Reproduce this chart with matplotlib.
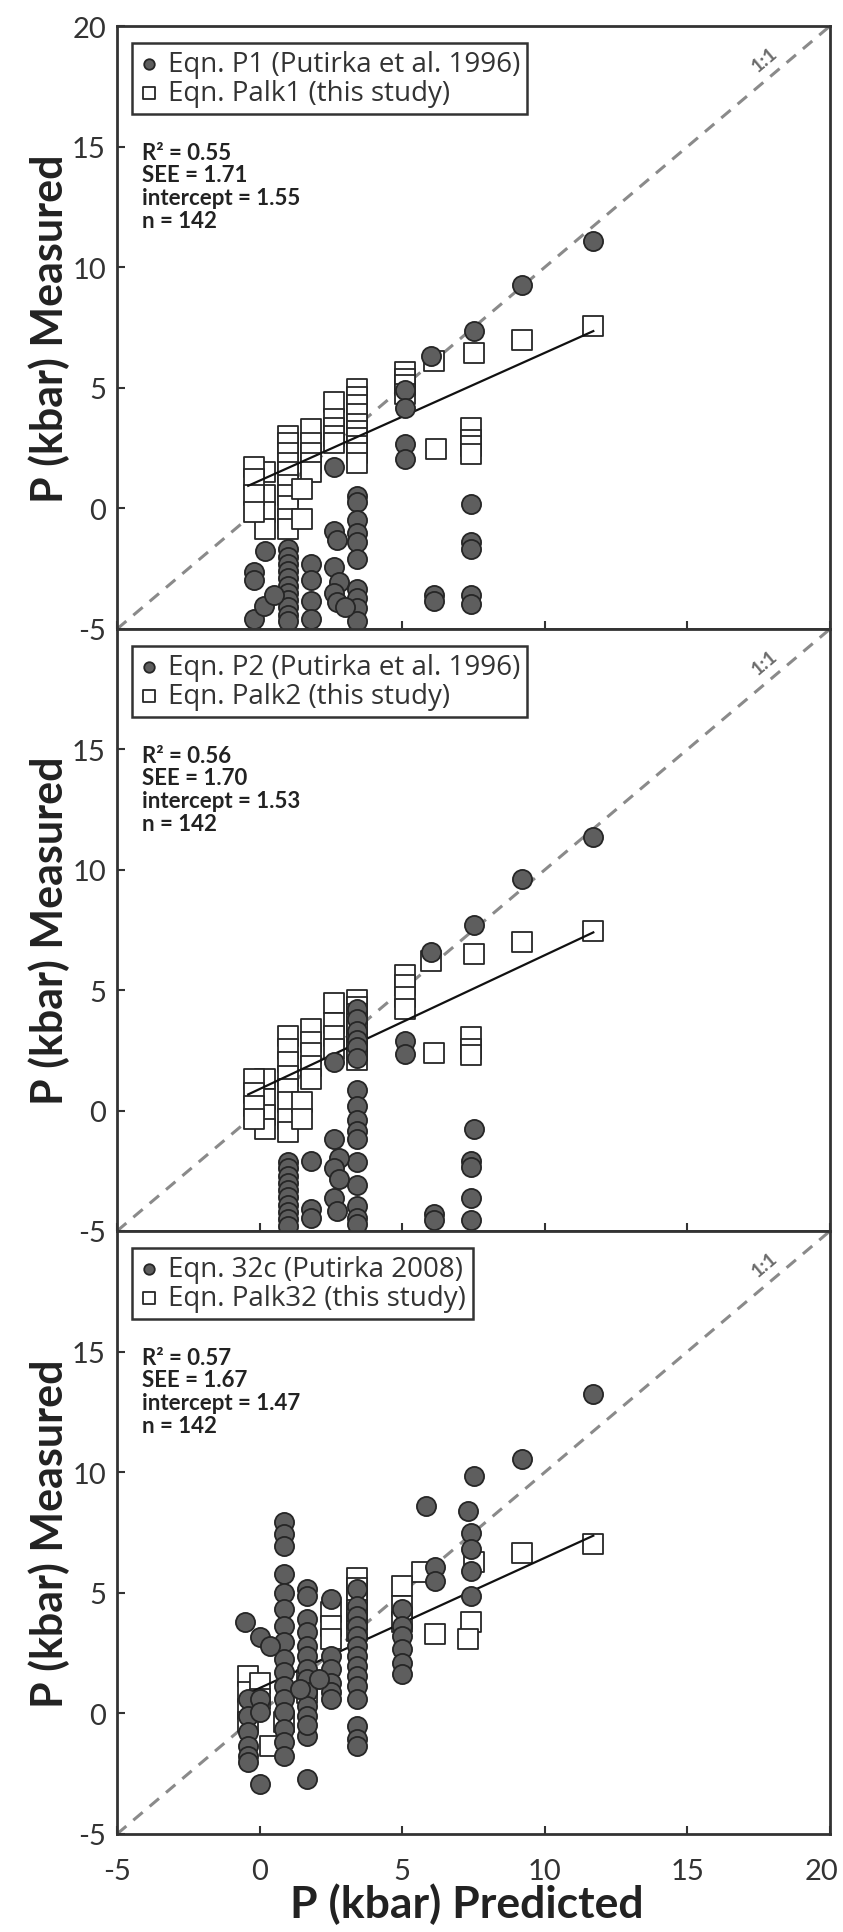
import math

import matplotlib
matplotlib.use("Agg")
import matplotlib.pyplot as plt
from matplotlib.transforms import ScaledTranslation

plt.rcParams["font.family"] = ["Lato", "DejaVu Sans"]
plt.rcParams["axes.unicode_minus"] = False

# ---- panel 1: Eqn. P1 vs Palk1 ----
p1_circ_x = [11.7, 9.2, 7.5, 6.0, 5.1, 5.1, 5.1, 5.1,
             7.4, 7.4, 7.4, 7.4, 7.4, 6.1, 6.1,
             3.4, 3.4, 3.4, 3.4, 3.4, 3.4, 3.4, 3.4, 3.4, 3.4,
             2.6, 2.6, 2.7, 2.6, 2.8, 2.6, 2.7, 3.0,
             1.8, 1.8, 1.8, 1.8,
             1.0, 1.0, 1.0, 1.0, 1.0, 1.0, 1.0, 1.0, 1.0, 1.0, 1.0,
             0.2, -0.2, 0.15, 0.5, -0.2, -0.2]
p1_circ_y = [11.1, 9.25, 7.35, 6.3, 4.9, 4.15, 2.65, 2.05,
             0.2, -1.4, -1.7, -3.6, -3.95, -3.6, -3.85,
             0.5, 0.25, -0.5, -1.0, -1.4, -2.1, -3.35, -3.7, -4.15, -4.65,
             1.7, -0.95, -1.3, -2.45, -3.05, -3.5, -3.9, -4.1,
             -2.3, -2.95, -3.85, -4.6,
             -1.7, -2.0, -2.3, -2.6, -2.9, -3.2, -3.5, -3.8, -4.1, -4.4, -4.65,
             -1.75, -4.6, -4.05, -3.6, -2.65, -2.95]
p1_sq_x = [11.7, 9.2, 7.5, 6.1, 5.1, 5.1, 5.1, 5.1,
           7.4, 7.4, 7.4, 7.4, 6.2,
           3.4, 3.4, 3.4, 3.4, 3.4, 3.4, 3.4, 3.4, 3.4, 3.4,
           2.6, 2.6, 2.6, 2.6, 2.6,
           1.8, 1.8, 1.8, 1.8, 1.8,
           1.0, 1.0, 1.0, 1.0, 1.0, 1.0, 1.0, 1.0, 1.0, 1.0,
           1.5, 1.5, 0.2, 0.2, 0.2, 0.2, -0.2, -0.2, -0.2, -0.2]
p1_sq_y = [7.55, 7.0, 6.45, 6.1, 5.65, 5.35, 5.1, 4.75,
           3.35, 2.85, 2.6, 2.25, 2.45,
           4.95, 4.6, 4.3, 3.9, 3.5, 3.2, 2.9, 2.6, 2.3, 1.9,
           4.4, 3.7, 3.35, 3.0, 2.7,
           3.3, 2.7, 2.3, 1.9, 1.5,
           3.0, 2.7, 2.3, 1.9, 1.5, 0.95, 0.55, 0.1, -0.45, -0.85,
           0.8, -0.45, 1.5, 0.55, -0.15, -0.85, 1.7, 1.2, 0.55, -0.15]
p1_fit = (0.53, 1.15)
p1_labels = ["Eqn. P1 (Putirka et al. 1996)", "Eqn. Palk1 (this study)"]
p1_stats = ["0.55", "1.71", "1.55", "142"]

# ---- panel 2: Eqn. P2 vs Palk2 ----
p2_circ_x = [11.7, 9.2, 7.5, 6.0, 5.1, 5.1,
             7.5, 7.4, 7.4, 7.4, 7.4, 6.1, 6.1,
             3.4, 3.4, 3.4, 3.4, 3.4, 3.4, 3.4, 3.4, 3.4, 3.4, 3.4, 3.4, 3.4, 3.4, 3.4, 3.4,
             2.6, 2.6, 2.8, 2.6, 2.8, 2.6, 2.7,
             1.8, 1.8, 1.8,
             1.0, 1.0, 1.0, 1.0, 1.0, 1.0, 1.0, 1.0, 1.0, 1.0]
p2_circ_y = [11.35, 9.6, 7.7, 6.6, 2.9, 2.35,
             -0.75, -2.1, -2.35, -3.65, -4.55, -4.3, -4.55,
             4.2, 3.8, 3.3, 2.95, 2.65, 2.2, 0.85, 0.2, -0.4, -0.85, -1.2, -2.15, -3.1, -3.95, -4.45, -4.7,
             2.0, -1.2, -1.95, -2.4, -2.85, -3.65, -4.15,
             -2.1, -4.1, -4.45,
             -2.15, -2.4, -2.7, -3.0, -3.3, -3.6, -3.9, -4.2, -4.5, -4.8]
p2_sq_x = [11.7, 9.2, 7.5, 6.0, 5.1, 5.1, 5.1, 5.1,
           7.4, 7.4, 7.4, 6.1,
           3.4, 3.4, 3.4, 3.4, 3.4, 3.4, 3.4, 3.4,
           2.6, 2.6, 2.6, 2.6,
           1.8, 1.8, 1.8, 1.8, 1.8,
           1.0, 1.0, 1.0, 1.0, 1.0, 1.0, 1.0, 1.0,
           1.5, 1.5, 0.2, 0.2, 0.2, 0.2, -0.2, -0.2, -0.2, -0.2]
p2_sq_y = [7.45, 7.0, 6.5, 6.2, 5.65, 5.2, 4.7, 4.2,
           3.05, 2.55, 2.3, 2.4,
           4.6, 4.3, 4.0, 3.6, 3.3, 2.9, 2.5, 2.1,
           4.45, 3.65, 3.1, 2.55,
           3.4, 2.85, 2.4, 1.85, 1.3,
           3.1, 2.55, 2.0, 1.45, 0.9, 0.35, -0.35, -0.9,
           0.35, -0.35, 1.3, 0.5, -0.2, -0.75, 1.3, 0.75, 0.2, -0.35]
p2_fit = (0.556, 0.895)
p2_labels = ["Eqn. P2 (Putirka et al. 1996)", "Eqn. Palk2 (this study)"]
p2_stats = ["0.56", "1.70", "1.53", "142"]

# ---- panel 3: Eqn. 32c vs Palk32 ----
p3_circ_x = [11.7, 9.2, 7.5, 5.85, 7.3, 7.4, 7.4, 7.4, 7.4, 6.15, 6.15,
             5.0, 5.0, 5.0, 5.0, 5.0, 5.0,
             3.4, 3.4, 3.4, 3.4, 3.4, 3.4, 3.4, 3.4, 3.4, 3.4, 3.4, 3.4, 3.4, 3.4,
             2.5, 2.5, 2.5, 2.5, 2.5, 2.5,
             1.65, 1.65, 1.65, 1.65, 1.65, 1.65, 1.65, 1.65, 1.65, 1.65, 1.65, 1.65, 1.65,
             0.85, 0.85, 0.85, 0.85, 0.85, 0.85, 0.85, 0.85, 0.85, 0.85, 0.85, 0.85, 0.85, 0.85, 0.85, 0.85,
             -0.5, 0.0, 0.35, -0.4, -0.4, -0.4, -0.4, -0.4, -0.4,
             0.0, 0.0, 0.0, 1.4, 2.1, 1.65]
p3_circ_y = [13.24, 10.54, 9.85, 8.61, 8.4, 7.5, 6.81, 5.91, 4.88, 6.05, 5.5,
             4.32, 3.63, 3.22, 2.67, 2.11, 1.63,
             5.15, 4.46, 4.05, 3.63, 3.22, 2.8, 2.39, 1.97, 1.56, 1.15, 0.59, -0.51, -1.07, -1.34,
             4.74, 2.39, 1.84, 1.28, 0.87, 0.59,
             5.15, 4.88, 3.91, 3.36, 2.8, 2.39, 1.84, 1.42, 0.87, 0.32, -0.1, -0.93, -2.72,
             7.92, 7.43, 6.95, 5.78, 5.0, 4.32, 3.63, 2.94, 2.25, 1.7, 1.15, 0.59, 0.04, -0.65, -1.2, -1.76,
             3.77, 3.15, 2.8, 0.59, -0.1, -0.79, -1.34, -1.76, -2.03,
             0.59, 0.04, -2.93, 1.0, 1.42, -0.5]
p3_sq_x = [11.7, 9.2, 7.5, 5.7, 5.0, 5.0, 5.0, 7.4, 7.3, 6.15,
           3.4, 3.4, 3.4, 3.4, 3.4, 3.4,
           2.5, 2.5, 2.5, 1.65, 1.65,
           -0.4, -0.4, -0.4, -0.4, 0.0, 0.0, 0.85, 0.35]
p3_sq_y = [7.02, 6.67, 6.26, 5.85, 5.29, 4.46, 3.77, 3.77, 3.08, 3.29,
           5.6, 5.2, 4.8, 4.3, 3.9, 3.4,
           4.19, 3.63, 3.08, 1.4, 0.85,
           1.56, 0.87, 0.18, -0.37, 1.28, 0.59, -0.37, -1.34]
p3_fit = (0.54, 1.05)
p3_labels = ["Eqn. 32c (Putirka 2008)", "Eqn. Palk32 (this study)"]
p3_stats = ["0.57", "1.67", "1.47", "142"]

fit_range = (-0.4, 11.7)
ticks = [-5, 0, 5, 10, 15, 20]

W, H = 843, 1933
left_px, right_px = 117, 830
panel_px = [(27, 630), (630, 1232), (1232, 1835)]

panels = [
    (p1_circ_x, p1_circ_y, p1_sq_x, p1_sq_y, p1_fit, p1_labels, p1_stats),
    (p2_circ_x, p2_circ_y, p2_sq_x, p2_sq_y, p2_fit, p2_labels, p2_stats),
    (p3_circ_x, p3_circ_y, p3_sq_x, p3_sq_y, p3_fit, p3_labels, p3_stats),
]

fig = plt.figure(figsize=(W / 100, H / 100), dpi=100)
edge = "#262626"

for i, ((cx, cy, sx, sy, fit, labels, stats), (top, bot)) in enumerate(zip(panels, panel_px)):
    ax = fig.add_axes([left_px / W, 1 - bot / H, (right_px - left_px) / W, (bot - top) / H])
    ax.set_xlim(-5, 20)
    ax.set_ylim(-5, 20)

    # 1:1 reference line and its label
    ax.plot([-5, 20], [-5, 20], color="#8a8a8a", lw=2.2, ls=(0, (4, 3)), zorder=1)
    ang = math.degrees(math.atan2(bot - top, right_px - left_px))
    ax.text(17.7, 18.65, "1:1", rotation=ang, color="#6a6a6a", fontsize=14,
            fontweight="bold", ha="center", va="center", zorder=1)

    sq = ax.scatter(sx, sy, marker="s", s=210, facecolor="white", edgecolor=edge,
                    linewidth=1.3, zorder=2, label=labels[1])
    slope, icpt = fit
    ax.plot(fit_range, [icpt + slope * x for x in fit_range], color="#111111", lw=1.6, zorder=3)
    ci = ax.scatter(cx, cy, marker="o", s=190, facecolor="#5e5e5e", edgecolor=edge,
                    linewidth=1.3, zorder=4, label=labels[0])

    leg = ax.legend(handles=[ci, sq], loc="upper left", bbox_to_anchor=(0.021, 0.972),
                    borderaxespad=0, markerscale=0.55, handlelength=0.7,
                    handletextpad=0.35, labelspacing=0.05, borderpad=0.25,
                    prop={"family": ["Open Sans", "DejaVu Sans"], "size": 20},
                    fancybox=False, framealpha=1, edgecolor="#333333", labelcolor="#333333")
    leg.get_frame().set_linewidth(1.8)

    ax.text(0.035, 0.808,
            f"R\u00b2 = {stats[0]}\nSEE = {stats[1]}\nintercept = {stats[2]}\nn = {stats[3]}",
            transform=ax.transAxes, ha="left", va="top", fontsize=16, fontweight="bold",
            color="#222222", linespacing=1.1)

    ax.set_xticks(ticks)
    ax.set_yticks(ticks if i == 0 else ticks[:-1])
    ax.tick_params(direction="in", length=6, width=1.5, colors="#333333",
                   labelsize=21, labelcolor="#333333", top=False, right=False)
    ax.tick_params(axis="y", pad=8)
    ax.tick_params(axis="x", pad=17)
    if i < 2:
        ax.tick_params(labelbottom=False)
    else:
        ax.set_xlabel("P (kbar) Predicted", fontsize=32, fontweight="bold", color="#222222",
                      va="top")
        ax.xaxis.set_label_coords(0.49, -0.08)
        # keep the last tick label ("20") inside the figure edge
        last = ax.get_xticklabels()[-1]
        last.set_transform(last.get_transform() + ScaledTranslation(-6 / 72, 0, fig.dpi_scale_trans))
    ax.set_ylabel("P (kbar) Measured", fontsize=31, fontweight="bold", color="#222222")
    ax.yaxis.set_label_coords(-0.066, 0.5)
    for s in ax.spines.values():
        s.set_linewidth(2)
        s.set_color("#333333")

fig.savefig("out.png", dpi=100)
